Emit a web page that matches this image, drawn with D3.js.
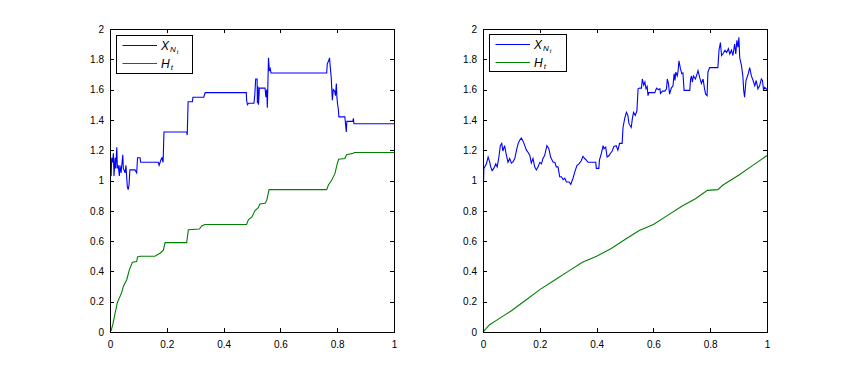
<!DOCTYPE html>
<html>
<head>
<meta charset="utf-8">
<script src="https://cdn.jsdelivr.net/npm/d3@7"></script>
<style>
  body { margin: 0; background: #fff; }
  svg { display: block; font-family: "Liberation Sans", Arial, sans-serif; }
  .axis text { font-size: 10px; fill: #000; }
  .axis line, .axis path { stroke: #000; shape-rendering: crispEdges; }
</style>
</head>
<body>
<div id="chart"></div>
<script>
// ── Data (t, value) ──────────────────────────────────────────────────────
const xTicks = [0, 0.2, 0.4, 0.6, 0.8, 1];
const yTicks = [0, 0.2, 0.4, 0.6, 0.8, 1, 1.2, 1.4, 1.6, 1.8, 2];

// left panel: X_{N_t} (jumpy) and H_t
const leftX = [
  [0.004,1.03],[0.006,1.15],[0.009,1.12],[0.012,1.18],[0.014,1.03],[0.018,1.15],
  [0.02,1.08],[0.024,1.22],[0.026,1.08],[0.029,1.1],[0.033,1.03],[0.035,1.1],
  [0.039,1.05],[0.045,1.17],[0.047,1.08],[0.053,1.05],[0.056,1.1],[0.061,0.96],
  [0.064,0.94],[0.067,0.97],[0.07,1.07],[0.088,1.07],[0.094,1.05],[0.097,1.15],
  [0.106,1.15],[0.108,1.12],[0.17,1.12],[0.173,1.1],[0.18,1.14],[0.183,1.15],
  [0.187,1.12],[0.19,1.32],[0.27,1.32],[0.272,1.3],[0.275,1.52],[0.29,1.52],
  [0.292,1.55],[0.33,1.55],[0.335,1.58],[0.48,1.58],[0.481,1.53],[0.484,1.5],
  [0.488,1.51],[0.507,1.51],[0.51,1.57],[0.513,1.67],[0.518,1.67],[0.519,1.51],
  [0.521,1.62],[0.523,1.5],[0.526,1.61],[0.546,1.61],[0.549,1.55],[0.552,1.6],
  [0.554,1.48],[0.556,1.64],[0.558,1.81],[0.561,1.73],[0.564,1.74],[0.567,1.71],
  [0.763,1.71],[0.765,1.77],[0.77,1.79],[0.773,1.81],[0.776,1.74],[0.779,1.68],
  [0.781,1.6],[0.783,1.53],[0.786,1.6],[0.791,1.59],[0.794,1.56],[0.797,1.64],
  [0.799,1.55],[0.801,1.51],[0.804,1.47],[0.806,1.42],[0.827,1.42],[0.829,1.38],
  [0.832,1.32],[0.834,1.39],[0.855,1.39],[0.857,1.41],[0.859,1.375],[1,1.375]
];
const leftH = [
  [0,0],[0.004,0.01],[0.01,0.05],[0.018,0.125],[0.026,0.195],[0.041,0.26],
  [0.047,0.3],[0.059,0.345],[0.068,0.41],[0.079,0.46],[0.094,0.465],[0.097,0.495],
  [0.106,0.5],[0.158,0.5],[0.176,0.52],[0.188,0.54],[0.194,0.59],[0.27,0.59],
  [0.276,0.675],[0.315,0.68],[0.323,0.7],[0.334,0.71],[0.481,0.71],[0.487,0.74],
  [0.5,0.76],[0.51,0.8],[0.522,0.82],[0.528,0.845],[0.546,0.85],[0.552,0.87],
  [0.56,0.94],[0.763,0.94],[0.769,0.97],[0.78,1.0],[0.792,1.045],[0.8,1.11],
  [0.805,1.14],[0.827,1.145],[0.833,1.17],[0.857,1.18],[0.86,1.185],[1,1.185]
];

// right panel: X_{N_t} (diffusive) and H_t
const rightX = [
  [0,1.0],[0.002,1.0],[0.003,1.08],[0.012,1.11],[0.018,1.155],[0.024,1.12],
  [0.027,1.09],[0.032,1.065],[0.038,1.08],[0.045,1.11],[0.05,1.09],[0.056,1.155],
  [0.061,1.23],[0.066,1.245],[0.07,1.195],[0.076,1.23],[0.082,1.17],[0.088,1.12],
  [0.094,1.145],[0.1,1.115],[0.106,1.125],[0.112,1.145],[0.118,1.2],[0.124,1.245],
  [0.129,1.265],[0.135,1.28],[0.141,1.26],[0.147,1.23],[0.153,1.2],[0.159,1.185],
  [0.165,1.165],[0.17,1.115],[0.176,1.145],[0.182,1.09],[0.188,1.07],[0.194,1.09],
  [0.2,1.12],[0.206,1.11],[0.211,1.145],[0.217,1.165],[0.225,1.23],[0.232,1.21],
  [0.238,1.155],[0.247,1.12],[0.253,1.12],[0.258,1.09],[0.264,1.09],[0.27,1.025],
  [0.276,1.025],[0.282,1.005],[0.288,1.015],[0.294,0.99],[0.303,0.99],[0.309,0.975],
  [0.317,1.015],[0.323,1.055],[0.331,1.1],[0.338,1.11],[0.346,1.13],[0.352,1.16],
  [0.358,1.145],[0.364,1.135],[0.37,1.12],[0.397,1.12],[0.399,1.08],[0.408,1.08],
  [0.41,1.135],[0.417,1.18],[0.423,1.23],[0.426,1.21],[0.432,1.22],[0.437,1.155],
  [0.444,1.165],[0.449,1.18],[0.455,1.195],[0.461,1.225],[0.469,1.23],[0.475,1.2],
  [0.481,1.245],[0.49,1.245],[0.493,1.35],[0.499,1.41],[0.505,1.45],[0.51,1.43],
  [0.514,1.375],[0.522,1.35],[0.526,1.41],[0.53,1.45],[0.536,1.43],[0.542,1.46],
  [0.546,1.605],[0.552,1.61],[0.558,1.61],[0.561,1.67],[0.566,1.63],[0.57,1.65],
  [0.574,1.605],[0.578,1.62],[0.581,1.56],[0.584,1.58],[0.605,1.58],[0.611,1.61],
  [0.617,1.6],[0.623,1.605],[0.625,1.575],[0.632,1.59],[0.64,1.59],[0.646,1.605],
  [0.649,1.67],[0.653,1.64],[0.657,1.57],[0.663,1.61],[0.669,1.625],[0.673,1.705],
  [0.676,1.66],[0.679,1.715],[0.684,1.69],[0.687,1.725],[0.69,1.79],[0.695,1.74],
  [0.7,1.705],[0.704,1.71],[0.708,1.595],[0.728,1.595],[0.731,1.67],[0.734,1.69],
  [0.737,1.65],[0.741,1.69],[0.748,1.67],[0.754,1.705],[0.757,1.725],[0.763,1.68],
  [0.769,1.64],[0.775,1.67],[0.78,1.605],[0.784,1.57],[0.789,1.56],[0.792,1.715],
  [0.798,1.745],[0.827,1.745],[0.831,1.86],[0.836,1.91],[0.84,1.825],[0.846,1.84],
  [0.852,1.86],[0.858,1.845],[0.864,1.87],[0.869,1.835],[0.875,1.86],[0.88,1.825],
  [0.886,1.9],[0.89,1.835],[0.894,1.925],[0.898,1.88],[0.901,1.945],[0.904,1.81],
  [0.91,1.76],[0.915,1.69],[0.918,1.595],[0.921,1.55],[0.926,1.66],[0.934,1.705],
  [0.939,1.745],[0.945,1.69],[0.951,1.66],[0.957,1.625],[0.962,1.66],[0.968,1.605],
  [0.974,1.625],[0.98,1.67],[0.984,1.66],[0.988,1.595],[0.992,1.615],[1,1.6]
];
const rightH = [
  [0,0],[0.01,0.02],[0.023,0.048],[0.05,0.08],[0.1,0.14],[0.15,0.21],[0.2,0.28],
  [0.25,0.34],[0.3,0.4],[0.35,0.46],[0.4,0.5],[0.45,0.55],[0.5,0.61],[0.55,0.67],
  [0.6,0.71],[0.65,0.77],[0.7,0.83],[0.748,0.88],[0.79,0.935],[0.827,0.94],
  [0.845,0.97],[0.9,1.035],[0.95,1.1],[1,1.165]
];

// ── Layout ───────────────────────────────────────────────────────────────
const W = 847, H = 373;
const TOP = 29, BOTTOM = 332;
const panels = [
  { x0: 110, x1: 394, X: leftX,  Hs: leftH,  leg: { x: 116, y: 35, w: 76, h: 38 } },
  { x0: 483, x1: 767, X: rightX, Hs: rightH, leg: { x: 489, y: 34, w: 77, h: 37 } }
];

const svg = d3.select('#chart').append('svg').attr('width', W).attr('height', H);
svg.append('rect').attr('width', W).attr('height', H).attr('fill', '#fff');

panels.forEach(p => {
  const x = d3.scaleLinear().domain([0, 1]).range([p.x0, p.x1]);
  const y = d3.scaleLinear().domain([0, 2]).range([BOTTOM, TOP]);
  const g = svg.append('g');

  // lines (drawn first, box and ticks on top)
  const line = d3.line().x(d => x(d[0])).y(d => y(d[1]));
  g.append('path').datum(p.X).attr('d', line)
    .attr('fill', 'none').attr('stroke', '#0000ff').attr('stroke-width', 1.1);
  g.append('path').datum(p.Hs).attr('d', line)
    .attr('fill', 'none').attr('stroke', '#008000').attr('stroke-width', 1.1);

  // box
  g.append('rect')
    .attr('x', p.x0 + 0.5).attr('y', TOP + 0.5)
    .attr('width', p.x1 - p.x0).attr('height', BOTTOM - TOP)
    .attr('fill', 'none').attr('stroke', '#000').attr('shape-rendering', 'crispEdges');

  // axes with inward ticks (matlab style)
  g.append('g').attr('class', 'axis').attr('transform', `translate(0,${BOTTOM})`)
    .call(d3.axisBottom(x).tickValues(xTicks).tickSizeInner(-4).tickSizeOuter(0)
      .tickPadding(9).tickFormat(d3.format('~g')))
    .call(a => a.select('.domain').remove());
  g.append('g').attr('class', 'axis').attr('transform', `translate(0,${TOP})`)
    .call(d3.axisTop(x).tickValues(xTicks).tickSizeInner(-4).tickSizeOuter(0).tickFormat(''))
    .call(a => a.select('.domain').remove());
  g.append('g').attr('class', 'axis').attr('transform', `translate(${p.x0},0)`)
    .call(d3.axisLeft(y).tickValues(yTicks).tickSizeInner(-4).tickSizeOuter(0)
      .tickPadding(6).tickFormat(d3.format('~g')))
    .call(a => a.select('.domain').remove());
  g.append('g').attr('class', 'axis').attr('transform', `translate(${p.x1},0)`)
    .call(d3.axisRight(y).tickValues(yTicks).tickSizeInner(-4).tickSizeOuter(0).tickFormat(''))
    .call(a => a.select('.domain').remove());

  // legend
  const L = p.leg;
  const lg = g.append('g');
  lg.append('rect').attr('x', L.x + 0.5).attr('y', L.y + 0.5).attr('width', L.w).attr('height', L.h)
    .attr('fill', '#fff').attr('stroke', '#000').attr('shape-rendering', 'crispEdges');
  const rows = [
    { c: '#0000ff', dy: 10, main: 'X', sub: 'N', subsub: 't' },
    { c: '#008000', dy: 27.5, main: 'H', sub: 't' }
  ];
  rows.forEach(r => {
    const ly = Math.round(L.y + r.dy) + 0.5;
    lg.append('line').attr('x1', L.x + 6.5).attr('x2', L.x + 41)
      .attr('y1', ly).attr('y2', ly).attr('stroke', r.c);
    const t = lg.append('text').attr('x', L.x + 45).attr('y', ly + 4)
      .attr('font-style', 'italic').attr('font-size', 12).attr('fill', '#000');
    t.append('tspan').text(r.main);
    t.append('tspan').attr('font-size', 8).attr('dx', 1).attr('dy', 2.5).text(r.sub);
    if (r.subsub) t.append('tspan').attr('font-size', 6).attr('dx', 1).attr('dy', 1.5).text(r.subsub);
  });
});
</script>
</body>
</html>
